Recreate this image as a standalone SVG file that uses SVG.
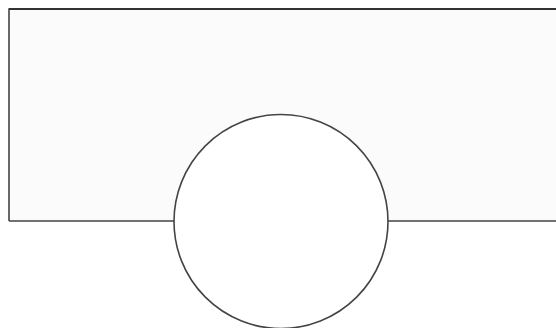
<svg xmlns="http://www.w3.org/2000/svg" width="556" height="328" viewBox="0 0 556 328">
<style>
.ln{fill:none;stroke:#444444;stroke-width:1.6}
</style>
<rect width="556" height="328" fill="#ffffff"/>
<g id="box">
<rect x="9" y="9" width="560" height="212" fill="#fbfbfb" stroke="none"/>
<path class="ln" d="M 9 221 V 9 H 556"/>
<path d="M 9 9 H 556" stroke="#333333" stroke-width="2.2" fill="none"/>
<path class="ln" d="M 9 221 H 175 M 387 221 H 556"/>
</g>
<g id="circle">
<circle cx="281" cy="221.5" r="107" fill="#ffffff" stroke="#444444" stroke-width="1.6"/>
</g>
<g id="connectors"></g>
</svg>
